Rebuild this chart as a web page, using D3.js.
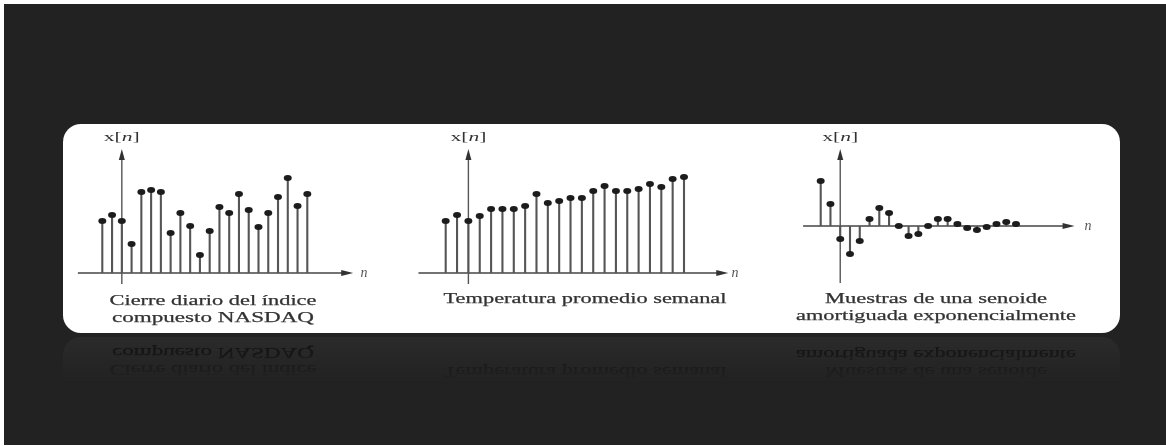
<!DOCTYPE html>
<html><head><meta charset="utf-8">
<script src="https://cdn.jsdelivr.net/npm/d3@7"></script>
<style>html,body{margin:0;padding:0;background:#fff;}svg{display:block;}</style>
</head><body>
<svg id="c" width="1166" height="446"></svg>
<script>
// ---- data (arbitrary units) ----
const nasdaqN = d3.range(-2, 20);
const nasdaqValues = [52, 58, 52, 29, 81, 83, 81, 40, 60, 47, 18, 42, 66, 60, 79, 63, 46, 60, 76, 95, 67, 79];
const tempN = d3.range(-2, 20);
const tempValues = [52, 58, 52, 57, 64, 64, 64, 67, 79, 70, 72, 75, 75, 82, 87, 82, 82, 84, 89, 86, 94, 96];
const sinN = d3.range(-2, 19);
const sinValues = [45, 22, -13, -28, -15, 7, 18, 13, 0, -10, -8, 0, 7, 7, 2, -2, -4, -1, 2, 4, 2];
const axisLabelX = "n";
const captions = [
  ["Cierre diario del índice", "compuesto NASDAQ"],
  ["Temperatura promedio semanal"],
  ["Muestras de una senoide", "amortiguada exponencialmente"]
];

// ---- layout ----
const svg = d3.select("#c");
const serif = "'Liberation Serif','DejaVu Serif',serif";
const panels = [
  {n: nasdaqN, v: nasdaqValues, xr: [102.3, 307.3], xd: [-2, 19], yd: [0, 124], yr: [273, 149], xAxis: [-4.5, 23.7], yBottom: -11, nLab: 364,
   cap: captions[0], capX: 213, capY: [305, 322], capW: [207, 202]},
  {n: tempN, v: tempValues, xr: [445.7, 684], xd: [-2, 19], yd: [0, 124], yr: [273, 149], xAxis: [-4.4, 22.9], yBottom: -11, nLab: 735,
   cap: captions[1], capX: 585, capY: [303], capW: [283]},
  {n: sinN, v: sinValues, xr: [820.7, 1016], xd: [-2, 18], yd: [0, 77], yr: [226, 149], xAxis: [-3.8, 24], yBottom: -57, nLab: 1088,
   cap: captions[2], capX: 936, capY: [303, 320], capW: [222, 280]}
];

const defs = svg.append("defs");
defs.append("filter").attr("id", "soft").attr("x", "-5%").attr("y", "-5%").attr("width", "110%").attr("height", "110%")
  .append("feGaussianBlur").attr("stdDeviation", 0.35);
// background
svg.append("rect").attr("x", 4).attr("y", 4).attr("width", 1162).attr("height", 441).attr("fill", "#222222");

// reflection
const grad = defs.append("linearGradient").attr("id", "rg").attr("x1", 0).attr("y1", 0).attr("x2", 0).attr("y2", 1);
grad.append("stop").attr("offset", "0%").attr("stop-color", "#fff").attr("stop-opacity", 0.8);
grad.append("stop").attr("offset", "100%").attr("stop-color", "#fff").attr("stop-opacity", 0);
defs.append("mask").attr("id", "rm").attr("maskUnits", "userSpaceOnUse")
  .append("rect").attr("x", 0).attr("y", 335).attr("width", 1166).attr("height", 48).attr("fill", "url(#rg)");
const refl = svg.append("g").attr("mask", "url(#rm)").attr("filter", "url(#soft)")
  .append("g").attr("transform", "translate(0,670) scale(1,-1)");
refl.append("rect").attr("x", 63).attr("y", 124).attr("width", 1057).attr("height", 209).attr("rx", 18)
  .attr("fill", "#2f2f2f");

// main panel
svg.append("rect").attr("x", 63).attr("y", 124).attr("width", 1057).attr("height", 209).attr("rx", 18)
  .attr("fill", "#ffffff");
const content = svg.append("g").attr("filter", "url(#soft)");

function drawCaptions(g, p, color) {
  p.cap.forEach((t, i) => {
    g.append("text").attr("x", p.capX).attr("y", p.capY[i]).attr("text-anchor", "middle")
      .attr("font-family", serif).attr("font-size", 15).attr("fill", color)
      .attr("stroke", color).attr("stroke-width", 0.25)
      .attr("textLength", p.capW[i]).attr("lengthAdjust", "spacingAndGlyphs").text(t);
  });
}

panels.forEach(p => {
  const x = d3.scaleLinear().domain(p.xd).range(p.xr);
  const y = d3.scaleLinear().domain(p.yd).range(p.yr);
  const g = content.append("g");
  const x0 = x(0), y0 = y(0);
  // axes
  g.append("line").attr("x1", x(p.xAxis[0])).attr("x2", x(p.xAxis[1]) - 7).attr("y1", y0).attr("y2", y0)
    .attr("stroke", "#444").attr("stroke-width", 1.4);
  g.append("line").attr("x1", x0).attr("x2", x0).attr("y1", y(p.yBottom)).attr("y2", y(p.yd[1]) + 7)
    .attr("stroke", "#555").attr("stroke-width", 1.4);
  const tipX = x(p.xAxis[1]), tipY = y(p.yd[1]);
  g.append("path").attr("d", `M${tipX},${y0} L${tipX - 12},${y0 - 3} L${tipX - 12},${y0 + 3} Z`).attr("fill", "#333");
  g.append("path").attr("d", `M${x0},${tipY} L${x0 - 3},${tipY + 11} L${x0 + 3},${tipY + 11} Z`).attr("fill", "#333");
  // labels
  const yl = g.append("text").attr("x", x0).attr("y", 141).attr("text-anchor", "middle")
    .attr("font-family", serif).attr("font-size", 13).attr("fill", "#333")
    .attr("textLength", 36).attr("lengthAdjust", "spacingAndGlyphs");
  yl.append("tspan").text("x[");
  yl.append("tspan").attr("font-style", "italic").text("n");
  yl.append("tspan").text("]");
  g.append("text").attr("x", p.nLab).attr("y", y0 + 4).attr("text-anchor", "middle")
    .attr("font-family", serif).attr("font-style", "italic").attr("font-size", 14).attr("fill", "#555")
    .text(axisLabelX);
  // stems
  const data = p.n.map((n, i) => ({n, v: p.v[i]}));
  g.selectAll("line.stem").data(data).join("line").attr("class", "stem")
    .attr("x1", d => x(d.n)).attr("x2", d => x(d.n)).attr("y1", y0).attr("y2", d => y(d.v))
    .attr("stroke", "#555").attr("stroke-width", 2.1);
  g.selectAll("ellipse").data(data).join("ellipse")
    .attr("cx", d => x(d.n)).attr("cy", d => y(d.v)).attr("rx", 4).attr("ry", 2.9).attr("fill", "#1c1c1c");
  drawCaptions(g, p, "#333");
  drawCaptions(refl, p, "#0a0a0a");
});
</script>
</body></html>
